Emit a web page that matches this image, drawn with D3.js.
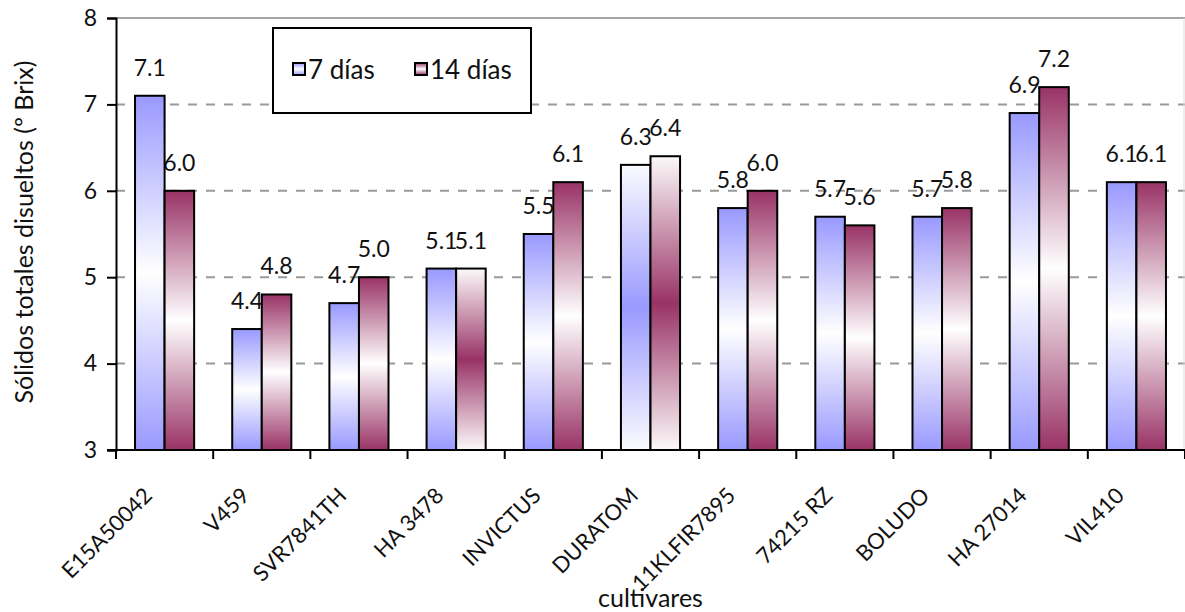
<!DOCTYPE html>
<html>
<head>
<meta charset="utf-8">
<script src="https://cdn.jsdelivr.net/npm/d3@7"></script>
<style>
  html, body { margin: 0; padding: 0; background: #fff; }
  svg { display: block; font-family: Lato, "Open Sans", sans-serif; }
</style>
</head>
<body>
<svg id="chart" width="1185" height="612"></svg>
<script>
const categories = ["E15A50042", "V459", "SVR7841TH", "HA 3478", "INVICTUS", "DURATOM",
  "11KLFIR7895", "74215 RZ", "BOLUDO", "HA 27014", "VIL410"];
const seriesNames = ["7 días", "14 días"];
const values7 = [7.1, 4.4, 4.7, 5.1, 5.5, 6.3, 5.8, 5.7, 5.7, 6.9, 6.1];
const values14 = [6.0, 4.8, 5.0, 5.1, 6.1, 6.4, 6.0, 5.6, 5.8, 7.2, 6.1];
const yTicks = [3, 4, 5, 6, 7, 8];
const yTitle = "Sólidos totales disueltos (º Brix)";
const xTitle = "cultivares";
// styling: which bars use the inverted (colour in the middle) gradient
const invertedBars = [["DURATOM"], ["HA 3478", "DURATOM"]];
const seriesColors = ["#9999ff", "#993366"];
const seriesPale = ["#fbfbff", "#fcf9f9"];

const svg = d3.select("#chart");
const mLeft = 116, mRight = 1185, mTop = 18, mBottom = 450;

const y = d3.scaleLinear().domain([3, 8]).range([mBottom, mTop]);
const x0 = d3.scaleBand().domain(categories).range([mLeft, mRight]).padding(0);
const x1 = d3.scaleBand().domain(seriesNames).range([0, x0.bandwidth()]).paddingInner(0).paddingOuter(0.644);

// gradients
const defs = svg.append("defs");
seriesNames.forEach((s, i) => {
  const g1 = defs.append("linearGradient").attr("id", "grad" + i).attr("x1", 0).attr("y1", 0).attr("x2", 0).attr("y2", 1);
  g1.append("stop").attr("offset", "0%").attr("stop-color", seriesColors[i]);
  g1.append("stop").attr("offset", "50%").attr("stop-color", "#ffffff");
  g1.append("stop").attr("offset", "100%").attr("stop-color", seriesColors[i]);
  const g2 = defs.append("linearGradient").attr("id", "gradInv" + i).attr("x1", 0).attr("y1", 0).attr("x2", 0).attr("y2", 1);
  g2.append("stop").attr("offset", "0%").attr("stop-color", seriesPale[i]);
  g2.append("stop").attr("offset", "50%").attr("stop-color", seriesColors[i]);
  g2.append("stop").attr("offset", "100%").attr("stop-color", seriesPale[i]);
});

// gridlines
svg.append("g").selectAll("line").data(yTicks.filter(t => t > 3 && t < 8)).join("line")
  .attr("x1", mLeft).attr("x2", mRight).attr("y1", d => y(d)).attr("y2", d => y(d))
  .attr("stroke", "#999").attr("stroke-width", 2).attr("stroke-dasharray", "9,9");
svg.append("line").attr("x1", mLeft).attr("x2", mRight).attr("y1", y(8)).attr("y2", y(8))
  .attr("stroke", "#a6a6a6").attr("stroke-width", 2);
svg.append("line").attr("x1", mRight - 1).attr("x2", mRight - 1).attr("y1", y(8)).attr("y2", mBottom)
  .attr("stroke", "#dddddd").attr("stroke-width", 1);

const data = categories.map((c, i) => ({ cat: c, vals: [values7[i], values14[i]] }));

// value labels (drawn beneath bars)
const labelG = svg.append("g");
data.forEach(d => {
  d.vals.forEach((v, si) => {
    labelG.append("text")
      .attr("x", x0(d.cat) + x1(seriesNames[si]) + x1.bandwidth() / 2)
      .attr("y", y(v) - 20)
      .attr("text-anchor", "middle")
      .attr("font-size", 23)
      .attr("fill", "#111")
      .text(d3.format(".1f")(v));
  });
});

// bars
const barG = svg.append("g");
data.forEach(d => {
  d.vals.forEach((v, si) => {
    const inv = invertedBars[si].includes(d.cat);
    barG.append("rect")
      .attr("x", x0(d.cat) + x1(seriesNames[si]))
      .attr("y", y(v))
      .attr("width", x1.bandwidth())
      .attr("height", y(3) - y(v))
      .attr("fill", `url(#${inv ? "gradInv" : "grad"}${si})`)
      .attr("stroke", "#000").attr("stroke-width", 2);
  });
});

// y axis
const yAxis = d3.axisLeft(y).tickValues(yTicks).tickSize(9).tickPadding(10).tickFormat(d3.format("d"));
const gy = svg.append("g").attr("transform", `translate(${mLeft},0)`).call(yAxis);
gy.select(".domain").attr("stroke", "#000").attr("stroke-width", 2);
gy.selectAll(".tick line").attr("stroke", "#000").attr("stroke-width", 2);
gy.selectAll(".tick text").attr("font-size", 23).attr("font-family", "Lato, sans-serif").attr("fill", "#111");

// x axis
svg.append("line").attr("x1", mLeft - 9).attr("x2", mRight).attr("y1", mBottom).attr("y2", mBottom)
  .attr("stroke", "#000").attr("stroke-width", 2);
const tickPos = categories.map(c => x0(c)).concat([mRight]);
svg.append("g").selectAll("line").data(tickPos).join("line")
  .attr("x1", d => d).attr("x2", d => d).attr("y1", mBottom).attr("y2", mBottom + 9)
  .attr("stroke", "#000").attr("stroke-width", 2);
svg.append("g").selectAll("text").data(categories).join("text")
  .attr("transform", d => `translate(${x0(d) + x0.bandwidth() / 2 - 11},${mBottom + 47}) rotate(-45)`)
  .attr("text-anchor", "end")
  .attr("font-size", 22)
  .attr("fill", "#111")
  .text(d => d);

// axis titles
svg.append("text")
  .attr("transform", `translate(33,232) rotate(-90)`)
  .attr("text-anchor", "middle").attr("font-size", 25).attr("fill", "#111")
  .text(yTitle);
svg.append("text")
  .attr("x", (mLeft + mRight) / 2).attr("y", 607)
  .attr("text-anchor", "middle").attr("font-size", 25).attr("fill", "#111")
  .text(xTitle);

// legend
const lg = svg.append("g");
lg.append("rect").attr("x", 273).attr("y", 28).attr("width", 258).attr("height", 85)
  .attr("fill", "#fff").attr("stroke", "#000").attr("stroke-width", 2);
const legendX = [293, 415];
seriesNames.forEach((s, i) => {
  lg.append("rect").attr("x", legendX[i]).attr("y", 63).attr("width", 12).attr("height", 12)
    .attr("fill", `url(#grad${i})`).attr("stroke", "#000").attr("stroke-width", 2);
  lg.append("text").attr("x", legendX[i] + 15).attr("y", 79)
    .attr("font-size", 26).attr("fill", "#111").text(s);
});
</script>
</body>
</html>
